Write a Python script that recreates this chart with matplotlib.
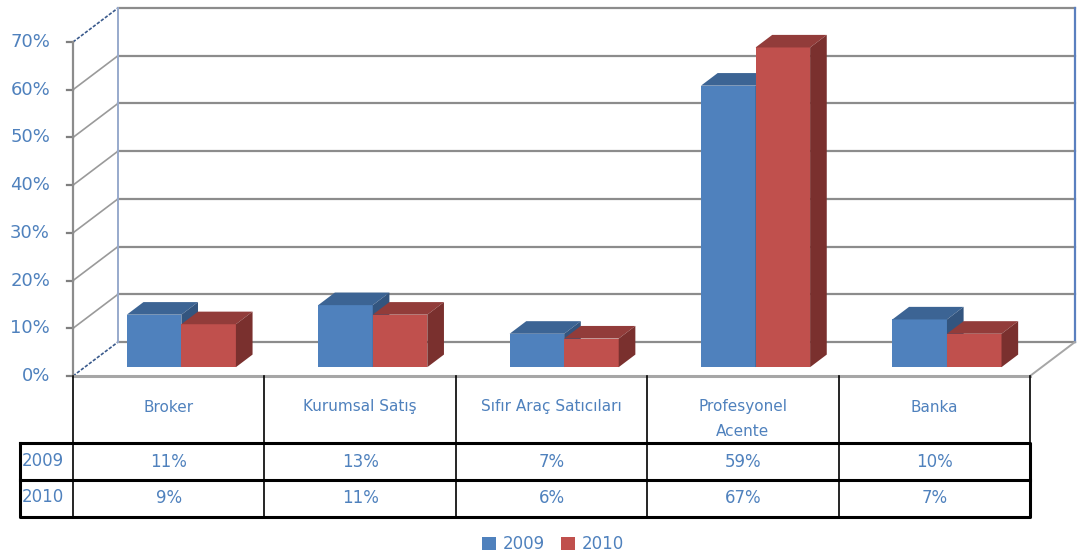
import matplotlib.pyplot as plt
from matplotlib.patches import Polygon, Patch

categories = ['Broker', 'Kurumsal Satış', 'Sıfır Araç Satıcıları', 'Profesyonel\nAcente', 'Banka']
years = ['2009', '2010']
share_2009 = [11, 13, 7, 59, 10]
share_2010 = [9, 11, 6, 67, 7]
y_ticks = [0, 10, 20, 30, 40, 50, 60, 70]

W, H = 1079, 555
TXT = '#4F81BD'
face = {'2009': ('#4F81BD', '#3C6494', '#33557F'),
        '2010': ('#C0504D', '#923C3A', '#7A302E')}

fig = plt.figure(figsize=(W / 100, H / 100), dpi=100)
fig.patch.set_facecolor('white')


def fx(px):
    return px / W


def fy(py):
    return 1 - py / H


# main plot area: front plane of the 3D box
ax = fig.add_axes([fx(73), fy(376), fx(1030) - fx(73), fy(42) - fy(376)])
ax.set_xlim(0, len(categories))
ax.set_ylim(0, 70)
ax.axis('off')

# depth of the box in data units (oblique projection)
DX = 45 / (957 / 5)
DY = 34 / (334 / 70)
n = len(categories)

# back wall and side wall grid
for t in y_ticks:
    ax.plot([DX, n + DX], [t + DY, t + DY], color='#8C8C8C', lw=1.6, clip_on=False, zorder=1)
    c = '#3A5A8C' if t in (0, 70) else '#9A9A9A'
    ax.plot([0, DX], [t, t + DY], color=c, lw=1.2, clip_on=False, zorder=1,
            ls=(0, (2, 1)) if t in (0, 70) else '-')
    ax.plot([-0.031, 0], [t, t], color='#7F7F7F', lw=1.6, clip_on=False, zorder=2)
    ax.text(-0.12, t, f'{t}%', ha='right', va='center', color=TXT, fontsize=13)

ax.plot([DX, DX], [DY, 70 + DY], color='#98AACC', lw=1.4, clip_on=False, zorder=1)
ax.plot([n + DX, n + DX], [DY, 70 + DY], color='#5A7FBF', lw=1.6, clip_on=False, zorder=1)
ax.plot([0, 0], [0, 70], color='#8C8C8C', lw=1.6, clip_on=False, zorder=2)
ax.plot([0, n], [0, 0], color='#A6A6A6', lw=2.2, clip_on=False, zorder=2)
ax.plot([n, n + DX], [0, DY], color='#A6A6A6', lw=1.4, clip_on=False, zorder=2)

# bars
bw = 0.285
ox, oy = 0.26 * DX, 0.26 * DY
dx, dy = 0.37 * DX, 0.37 * DY
for k, (yr, vals) in enumerate(zip(years, [share_2009, share_2010])):
    fc, tc, sc = face[yr]
    xs = [i + 0.22 + k * bw + ox for i in range(n)]
    ax.bar(xs, vals, width=bw, bottom=oy, align='edge', color=fc, lw=0, zorder=3 + k, clip_on=False)
    for x0, h in zip(xs, vals):
        top = [(x0, oy + h), (x0 + bw, oy + h), (x0 + bw + dx, oy + h + dy), (x0 + dx, oy + h + dy)]
        side = [(x0 + bw, oy), (x0 + bw + dx, oy + dy), (x0 + bw + dx, oy + h + dy), (x0 + bw, oy + h)]
        ax.add_patch(Polygon(top, closed=True, fc=tc, lw=0, zorder=3 + k, clip_on=False))
        ax.add_patch(Polygon(side, closed=True, fc=sc, lw=0, zorder=3 + k, clip_on=False))

# data table below the plot
tab = fig.add_axes([0, 0, 1, 1])
tab.set_xlim(0, W)
tab.set_ylim(H, 0)
tab.axis('off')
tab.patch.set_alpha(0)

col_x = [73 + i * 957 / n for i in range(n + 1)]
for x in col_x:
    tab.plot([x, x], [376, 443], color='black', lw=1.2)
    tab.plot([x, x], [443, 517], color='black', lw=1.2)
tab.plot([20, 1030, 1030, 20, 20], [443, 443, 517, 517, 443], color='black', lw=2.2)
tab.plot([20, 1030], [480, 480], color='black', lw=2.2)

for i, cat in enumerate(categories):
    cx = (col_x[i] + col_x[i + 1]) / 2
    for j, line in enumerate(cat.split('\n')):
        tab.text(cx, 407 + j * 24, line, ha='center', va='center', color=TXT, fontsize=11)
    tab.text(cx, 462, f'{share_2009[i]}%', ha='center', va='center', color=TXT, fontsize=12)
    tab.text(cx, 498, f'{share_2010[i]}%', ha='center', va='center', color=TXT, fontsize=12)

tab.text(22, 461, years[0], ha='left', va='center', color=TXT, fontsize=12)
tab.text(22, 497, years[1], ha='left', va='center', color=TXT, fontsize=12)

handles = [Patch(fc=face[y][0], lw=0) for y in years]
fig.legend(handles, years, loc='center', bbox_to_anchor=(fx(553), fy(544)), ncol=2,
           frameon=False, fontsize=12, labelcolor=TXT, handlelength=0.8, handleheight=0.8,
           handletextpad=0.4, columnspacing=1.0)

fig.savefig('out.png', dpi=100)
